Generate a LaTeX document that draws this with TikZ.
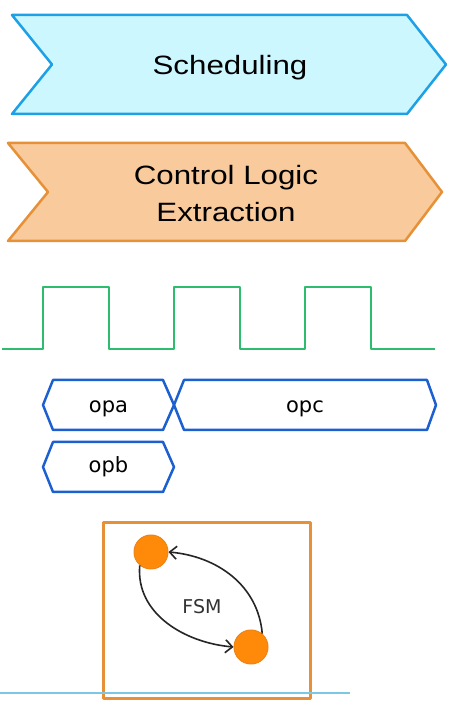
\documentclass[tikz,border=0pt]{standalone}
\usepackage{fontspec}
\setmainfont{Liberation Sans}[FakeStretch=1.18]
\newfontfamily\opfont{DejaVu Sans}
\usetikzlibrary{arrows.meta}
\definecolor{schedfill}{HTML}{CCF7FF}
\definecolor{schedline}{HTML}{1EA0E6}
\definecolor{ctrlfill}{HTML}{F9CB9C}
\definecolor{ctrlline}{HTML}{E69138}
\definecolor{clockgreen}{HTML}{2EBD6E}
\definecolor{opblue}{HTML}{1C5FD0}
\definecolor{statefill}{HTML}{FF8A0A}
\definecolor{stateline}{HTML}{EE8316}
\definecolor{cutline}{HTML}{7CC6E6}

\begin{document}
\begin{tikzpicture}[x=1pt, y=1pt, line width=2.5pt, line join=round,
  title/.style={anchor=base, font=\fontsize{26.5}{30}\selectfont},
  oplabel/.style={anchor=base, font=\opfont\fontsize{21}{24}\selectfont},
  state/.style={circle, minimum size=34pt, inner sep=0pt, fill=statefill, draw=stateline, line width=1pt},
  trans/.style={draw=black!85, line width=1.6pt, -{Straight Barb[length=7pt,width=13pt]}}]
\useasboundingbox[fill=white] (0,0) rectangle (456,704);
% chevrons
\filldraw[draw=schedline, fill=schedfill] (12,689) -- (407,689) -- (446,639.5) -- (407,590) -- (12,590) -- (52,639.5) -- cycle;
\filldraw[draw=ctrlline, fill=ctrlfill] (8,561) -- (405,561) -- (442,512) -- (405,463) -- (8,463) -- (48,512) -- cycle;
\node[title] (sched) at (230,629) {Scheduling};
\node[title] (ctrl) at (226,519) {Control Logic};
\node[title] (extr) at (226,482) {Extraction};
% clock
\draw[clockgreen] (2,355) -- (43,355) -- (43,417) -- (109,417) -- (109,355) -- (174,355) -- (174,417)
  -- (240,417) -- (240,355) -- (305,355) -- (305,417) -- (371,417) -- (371,355) -- (435,355);
% operations
\draw[opblue] (43,299) -- (53,324) -- (163,324) -- (174,299) -- (163,274) -- (53,274) -- cycle;
\draw[opblue] (174,299) -- (184,324) -- (427,324) -- (436,299) -- (427,274) -- (184,274) -- cycle;
\draw[opblue] (43,237) -- (53,262) -- (163,262) -- (174,237) -- (163,212) -- (53,212) -- cycle;
\node[oplabel] (opa) at (108.5,291) {opa};
\node[oplabel] (opc) at (305,291) {opc};
\node[oplabel] (opb) at (108.5,231) {opb};
% FSM
\draw[ctrlline, line width=3pt] (103,5) rectangle (310,181);
\node[state] (s1) at (151,152) {};
\node[state] (s2) at (251,57) {};
\node[anchor=base, text=black!80, font=\opfont\fontsize{19}{22}\selectfont] (fsm) at (202,90) {FSM};
\draw[trans] (s2.50) to[out=95, in=-5] (s1.east);
\draw[trans] (s1.230) to[out=-95, in=175] (s2.west);
\draw[cutline, line width=1.5pt] (0,11) -- (350,11);  % bottom edge line
\end{tikzpicture}
\end{document}
